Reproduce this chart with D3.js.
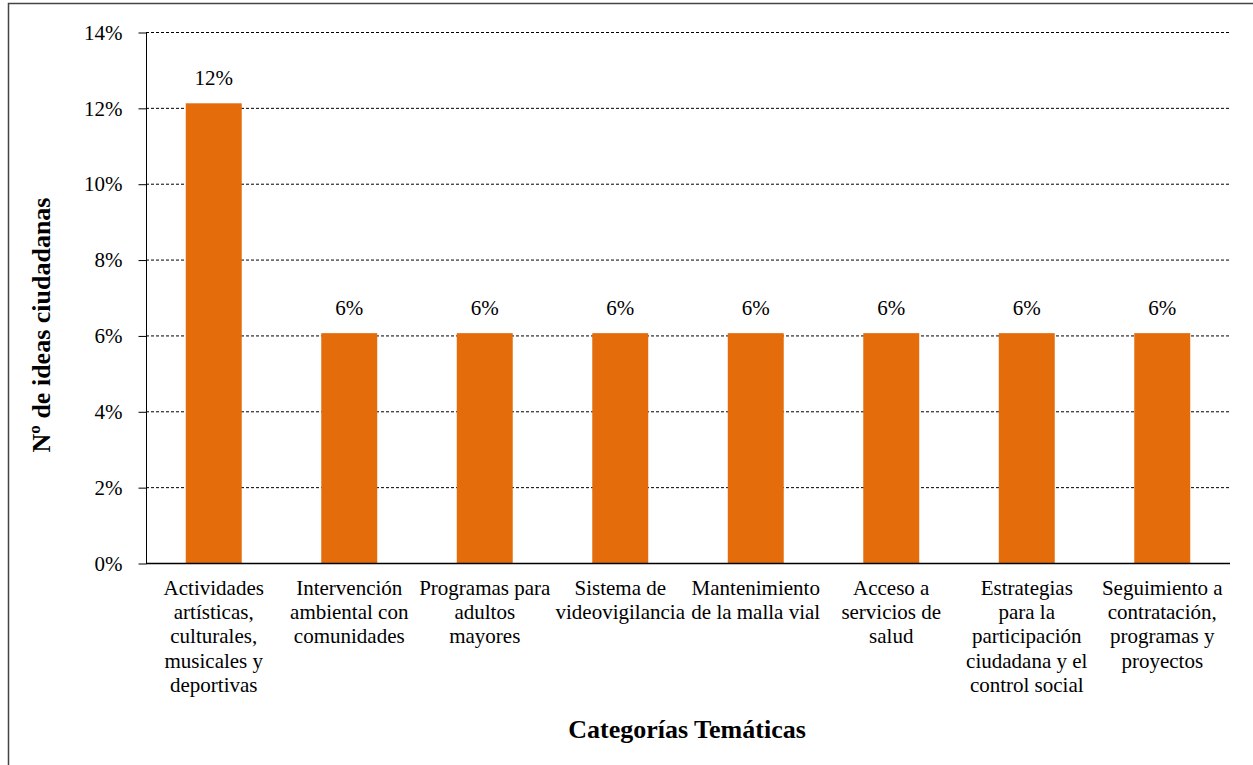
<!DOCTYPE html>
<html><head><meta charset="utf-8">
<script src="https://cdn.jsdelivr.net/npm/d3@7"></script>
</head><body>
<svg id="chart" width="1253" height="765"></svg>
<script>
const categories = [
  ["Actividades","artísticas,","culturales,","musicales y","deportivas"],
  ["Intervención","ambiental con","comunidades"],
  ["Programas para","adultos","mayores"],
  ["Sistema de","videovigilancia"],
  ["Mantenimiento","de la malla vial"],
  ["Acceso a","servicios de","salud"],
  ["Estrategias","para la","participación","ciudadana y el","control social"],
  ["Seguimiento a","contratación,","programas y","proyectos"]
];
const values = [12.12, 6.06, 6.06, 6.06, 6.06, 6.06, 6.06, 6.06];
const valueLabels = ["12%","6%","6%","6%","6%","6%","6%","6%"];
const yTicks = [0,2,4,6,8,10,12,14];

d3.select("body").style("margin","0").style("background","#fff");
const svg = d3.select("#chart").style("display","block");
const FONT = '"Liberation Serif"';
const m = {left:146, right:1230, top:32, bottom:563};

// frame
svg.append("path").attr("d","M8.5,765 L8.5,3.5 L1253,3.5")
  .attr("fill","none").attr("stroke","#444").attr("stroke-width",1.5);

const x = d3.scaleBand().domain(d3.range(categories.length)).range([m.left,m.right]).paddingInner(0.587).paddingOuter(0.2935);
const y = d3.scaleLinear().domain([0,14]).range([m.bottom,m.top]);

// gridlines
svg.append("g").selectAll("line").data(yTicks.filter(d=>d>0)).join("line")
  .attr("x1",m.left).attr("x2",m.right)
  .attr("y1",d=>y(d)+0.5).attr("y2",d=>y(d)+0.5)
  .attr("stroke","#000").attr("stroke-width",1).attr("stroke-dasharray","3,2");

// bars
svg.append("g").selectAll("rect").data(values).join("rect")
  .attr("x",(d,i)=>x(i)).attr("width",x.bandwidth())
  .attr("y",d=>y(d)).attr("height",d=>y(0)-y(d))
  .attr("fill","#E46C0A");

// value labels
svg.append("g").selectAll("text").data(values).join("text")
  .attr("x",(d,i)=>x(i)+x.bandwidth()/2).attr("y",d=>y(d)-18)
  .attr("text-anchor","middle")
  .style("font-family",FONT).style("font-size","21px")
  .attr("fill","#000").text((d,i)=>valueLabels[i]);

// y axis
const yAxis = d3.axisLeft(y).tickValues(yTicks).tickFormat(d=>d+"%").tickSize(8).tickPadding(16);
const gy = svg.append("g").attr("transform",`translate(${m.left+0.5},0.5)`).call(yAxis);
gy.attr("font-family",FONT);
gy.selectAll("text").style("font-family",FONT).style("font-size","21px").attr("fill","#000");
gy.selectAll("line,path").attr("stroke","#000");
gy.select(".domain").attr("d",`M0,${m.top}V${m.bottom}`);

// x axis baseline
svg.append("line").attr("x1",m.left).attr("x2",m.right).attr("y1",m.bottom+0.5).attr("y2",m.bottom+0.5)
  .attr("stroke","#000").attr("stroke-width",1.3);

// category labels
const cl = svg.append("g").selectAll("text").data(categories).join("text")
  .attr("x",(d,i)=>x(i)+x.bandwidth()/2).attr("y",595)
  .attr("text-anchor","middle")
  .style("font-family",FONT).style("font-size","21px").attr("fill","#000");
cl.selectAll("tspan").data(d=>d).join("tspan")
  .attr("x",function(){return d3.select(this.parentNode).attr("x");})
  .attr("dy",(d,i)=>i===0?0:24.2).text(d=>d);

// axis titles
svg.append("text").attr("x",687).attr("y",738).attr("text-anchor","middle")
  .style("font-family",FONT).style("font-size","26px").style("font-weight","bold").text("Categorías Temáticas");
svg.append("text").attr("transform","translate(50,325) rotate(-90)").attr("text-anchor","middle")
  .style("font-family",FONT).style("font-size","26px").style("font-weight","bold").text("Nº de ideas ciudadanas");
</script>
</body></html>
